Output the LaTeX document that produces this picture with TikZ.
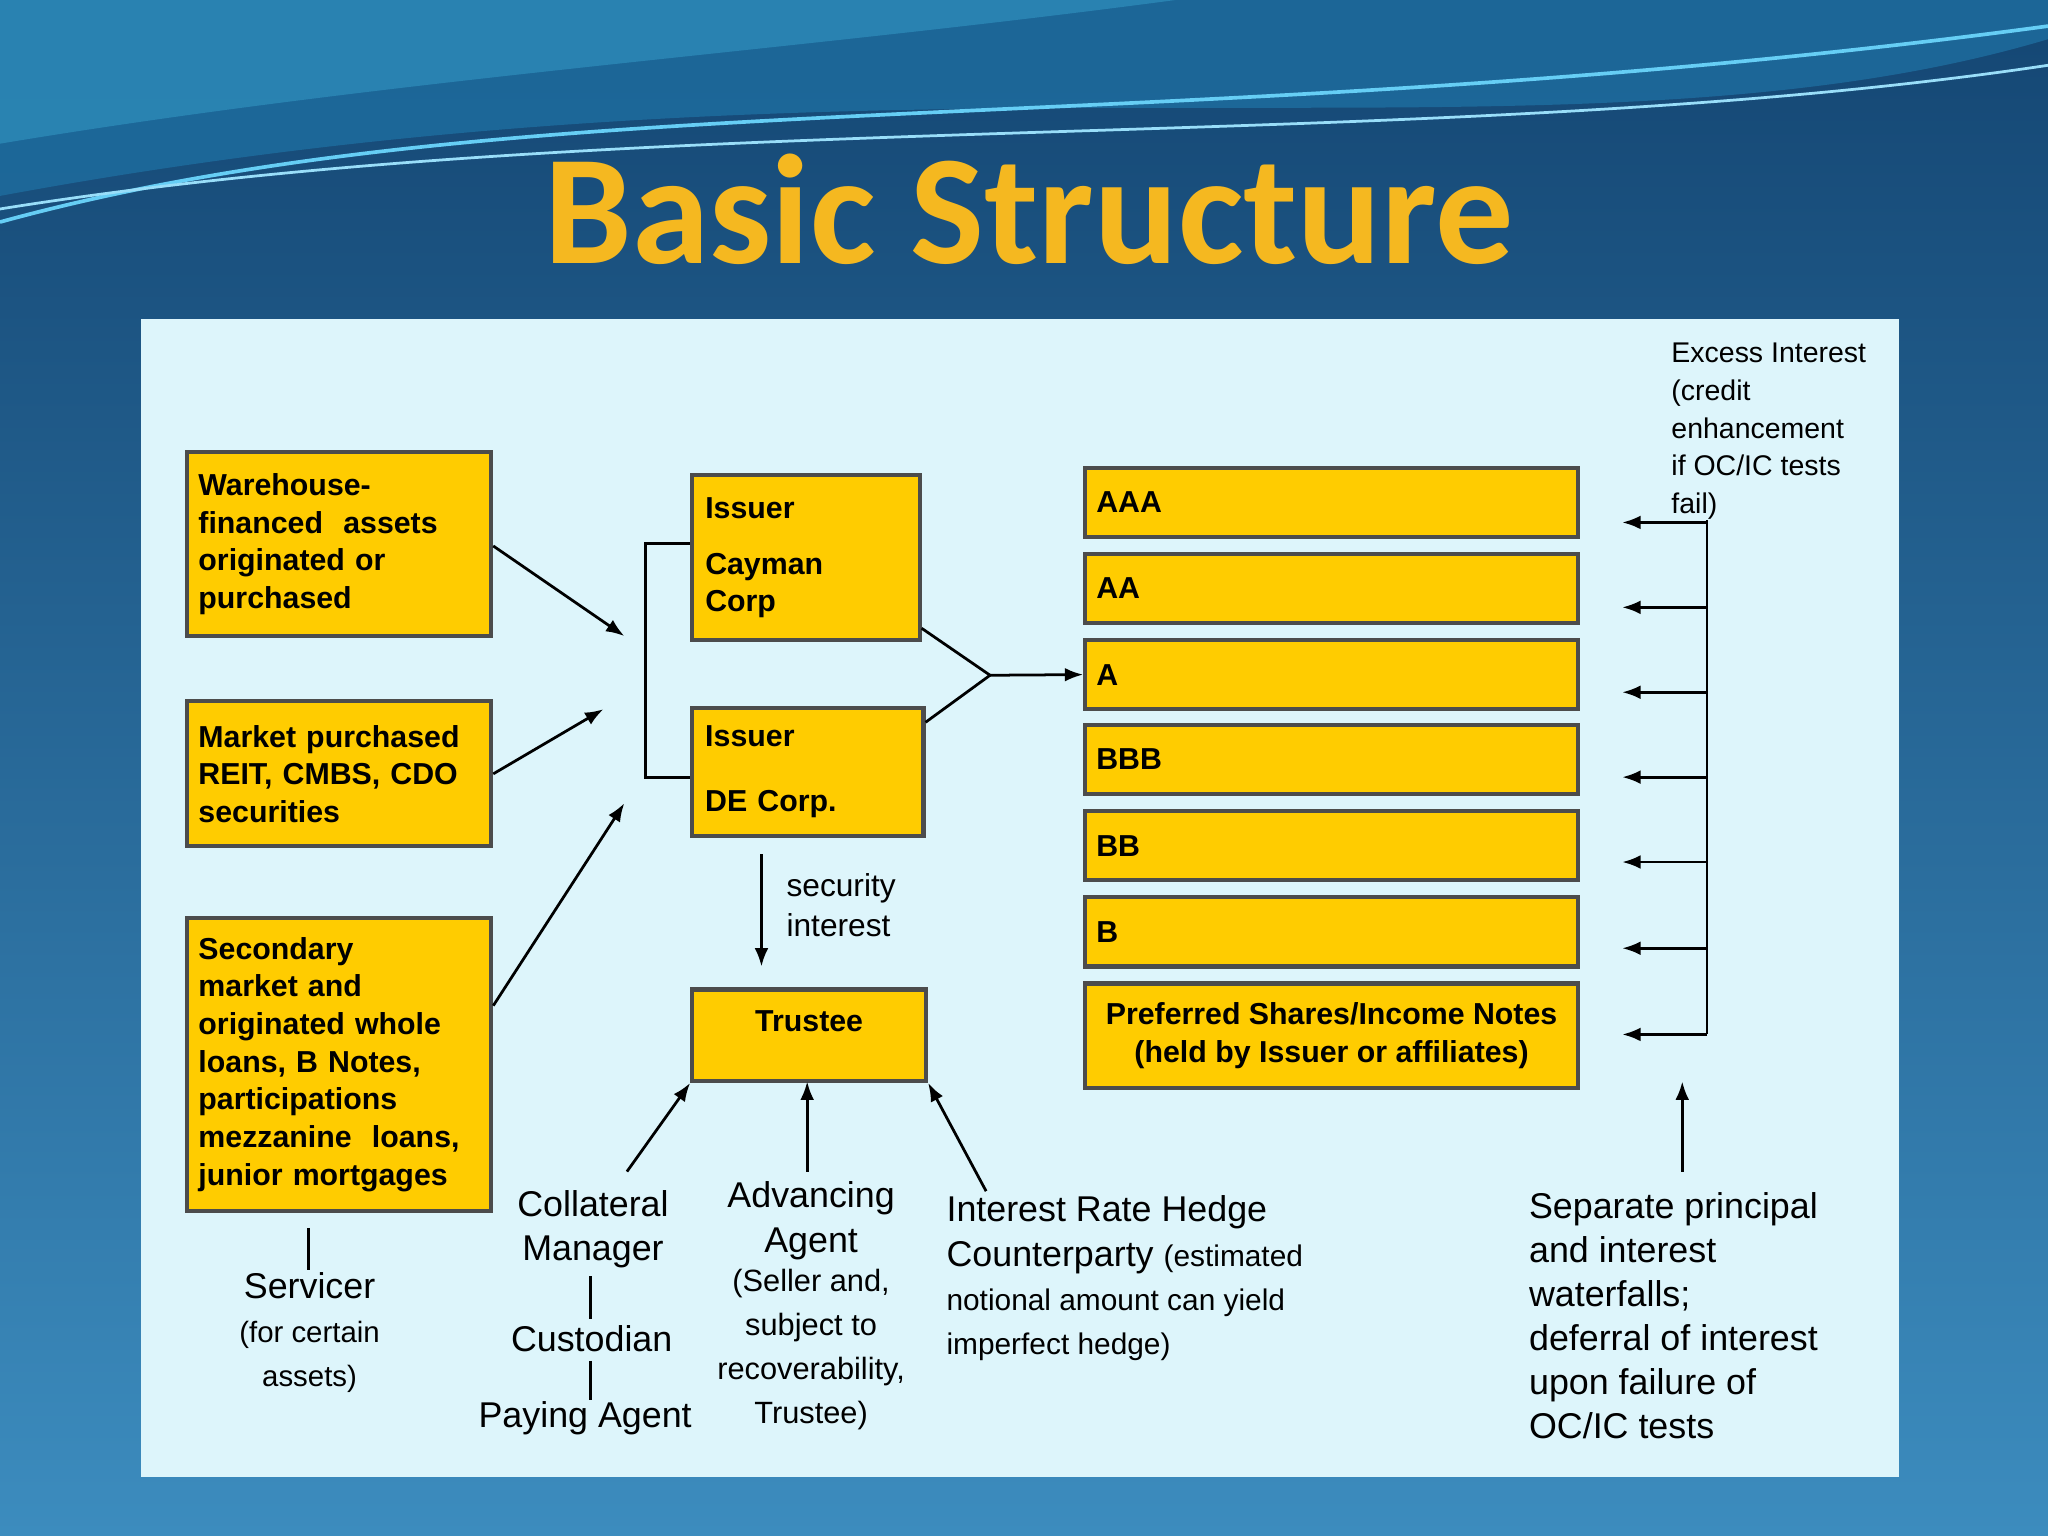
\documentclass[tikz,border=0pt]{standalone}
\usepackage{fontspec}
\setmainfont{Liberation Sans}
\newfontfamily\titlefont{Carlito}
\usetikzlibrary{arrows.meta}
\definecolor{gold}{HTML}{FFCC00}
\definecolor{panel}{HTML}{DDF5FB}
\definecolor{titlec}{HTML}{F5B820}
\definecolor{bgtop}{RGB}{20,70,115}
\definecolor{bgbot}{RGB}{60,140,190}
\definecolor{wave1}{RGB}{30,110,160}
\definecolor{wave2}{RGB}{50,150,195}
\begin{document}
\begin{tikzpicture}[x=0.01cm,y=-0.01cm,
  box/.style={draw=black!70,line width=0.9pt,fill=gold,font=\fontsize{6.6}{8.2}\selectfont\bfseries,align=left,inner sep=0pt},
  arr/.style={-{Latex[length=4pt,width=3pt]},line width=0.6pt},
  ln/.style={line width=0.6pt},
  lab/.style={font=\fontsize{7.8}{9.6}\selectfont,align=center,inner sep=0pt},
  sml/.style={font=\fontsize{6.2}{8.2}\selectfont,align=left,inner sep=0pt}]
\useasboundingbox (0,0) rectangle (1568,1176);
\shade[top color=bgtop,bottom color=bgbot] (0,0) rectangle (1568,1176);
\fill[wave1,opacity=0.8] (0,0) -- (1568,0) -- (1568,30) .. controls (1200,140) and (700,20) .. (0,150) -- cycle;
\fill[wave2,opacity=0.6] (0,0) -- (900,0) .. controls (600,40) and (300,60) .. (0,110) -- cycle;
\draw[cyan!60,line width=0.8pt] (0,170) .. controls (400,60) and (900,110) .. (1568,20);
\draw[cyan!40,line width=0.6pt] (0,160) .. controls (500,80) and (1100,120) .. (1568,50);
\node[font=\titlefont\bfseries\fontsize{34}{40}\selectfont,text=titlec] (title) at (788,160) {Basic Structure};
\fill[panel] (108,244) rectangle (1454,1131);
% left boxes
\node[box,minimum width=2.33cm,minimum height=1.41cm,text width=2.15cm] (wh) at (259.5,416.5) {Warehouse-\\financed\ \ assets\\originated or\\purchased};
\node[box,minimum width=2.33cm,minimum height=1.11cm,text width=2.15cm] (mk) at (259.5,592.5) {Market purchased\\REIT, CMBS, CDO\\securities};
\node[box,minimum width=2.33cm,minimum height=2.24cm,text width=2.15cm] (sc) at (259.5,815) {Secondary\\market and\\originated whole\\loans, B Notes,\\participations\\mezzanine\ \ loans,\\junior mortgages};
\node[box,minimum width=1.74cm,minimum height=1.26cm,text width=1.54cm] (ic) at (617,427) {Issuer\\[4pt]Cayman\\Corp};
\node[box,minimum width=1.77cm,minimum height=0.98cm,text width=1.57cm] (id) at (618.5,591) {Issuer\\[6pt]DE Corp.};
\node[box,minimum width=1.79cm,text height=0.32cm,text depth=0.38cm,anchor=north,align=center] (tr) at (619.5,756) {Trustee};
% tranches
\foreach \n/\t/\a/\b in {aaa/AAA/358/411,aa/AA/424/477,a/A/490/543,bbb/BBB/555/608,bb/BB/621/674,b/B/687/740}{
  \node[box,minimum width=3.77cm,minimum height=0.53cm,text width=3.6cm] (\n) at (1019.5,{(\a+\b)/2}) {\t};
}
\node[box,minimum width=3.77cm,minimum height=0.80cm,align=center] (pf) at (1019.5,793) {Preferred Shares/Income Notes\\(held by Issuer or affiliates)};
% left arrows
\coordinate (m1) at (478,487); \coordinate (m2) at (462,543); \coordinate (m3) at (478,615);
\draw[arr] (wh.east |- 0,418) -- (m1);
\draw[arr] (mk.east) -- (m2);
\draw[arr] (sc.east |- 0,770) -- (m3);
\draw[ln] (ic.west |- 0,416) -| (494,595) -- (id.west |- 0,595);
\coordinate (mg) at (758,517);
\draw[ln] (ic.east |- 0,481) -- (mg);
\draw[ln] (id.east |- 0,553) -- (mg);
\draw[arr] (mg) -- (a.west);
% security interest
\coordinate (s1) at (583,654);
\draw[arr] (s1) -- (583,740);
\node[lab,font=\fontsize{6.9}{8.6}\selectfont,align=left] (si) at (644,693) {security\\interest};
% bottom labels
\node[lab] (cm) at (454,941) {Collateral\\Manager};
\node[lab] (cu) at (453,1025) {Custodian};
\node[lab] (pa) at (448,1086) {Paying Agent};
\node[lab] (aa2) at (621,1000) {Advancing\\Agent\\[-1pt]{\fontsize{6.7}{8.5}\selectfont (Seller and,}\\{\fontsize{6.7}{8.5}\selectfont subject to}\\{\fontsize{6.7}{8.5}\selectfont recoverability,}\\{\fontsize{6.7}{8.5}\selectfont Trustee)}};
\node[lab,align=left,anchor=north west] (ih) at (724,915) {Interest Rate Hedge\\Counterparty {\fontsize{6.5}{8.2}\selectfont (estimated}\\{\fontsize{6.5}{8.2}\selectfont notional amount can yield}\\{\fontsize{6.5}{8.2}\selectfont imperfect hedge)}};
\node[lab] (sv) at (237,1020) {Servicer\\{\fontsize{6.4}{8.4}\selectfont (for certain}\\{\fontsize{6.4}{8.4}\selectfont assets)}};
\draw[ln] (236,940) -- (236,972);
\draw[ln] (452,977) -- (452,1010);
\draw[ln] (452,1042) -- (452,1072);
\draw[arr] (480,897) -- (tr.south west);
\draw[arr] (618,897) -- (618,828);
\draw[arr] (755,912) -- (tr.south east);
% right side
\node[lab,align=left,anchor=north west] (sp) at (1170,912) {Separate principal\\and interest\\waterfalls;\\deferral of interest\\upon failure of\\OC/IC tests};
\draw[arr] (1288,897) -- (1288,828);
\node[sml,anchor=north west] (ex) at (1279,262) {Excess Interest\\(credit\\enhancement\\if OC/IC tests\\fail)};
\draw[ln] (1307,398) -- (1307,792);
\foreach \y in {400,465,530,595,660,726,792}{\draw[arr] (1307,\y) -- (1242,\y);}
\end{tikzpicture}
\end{document}
